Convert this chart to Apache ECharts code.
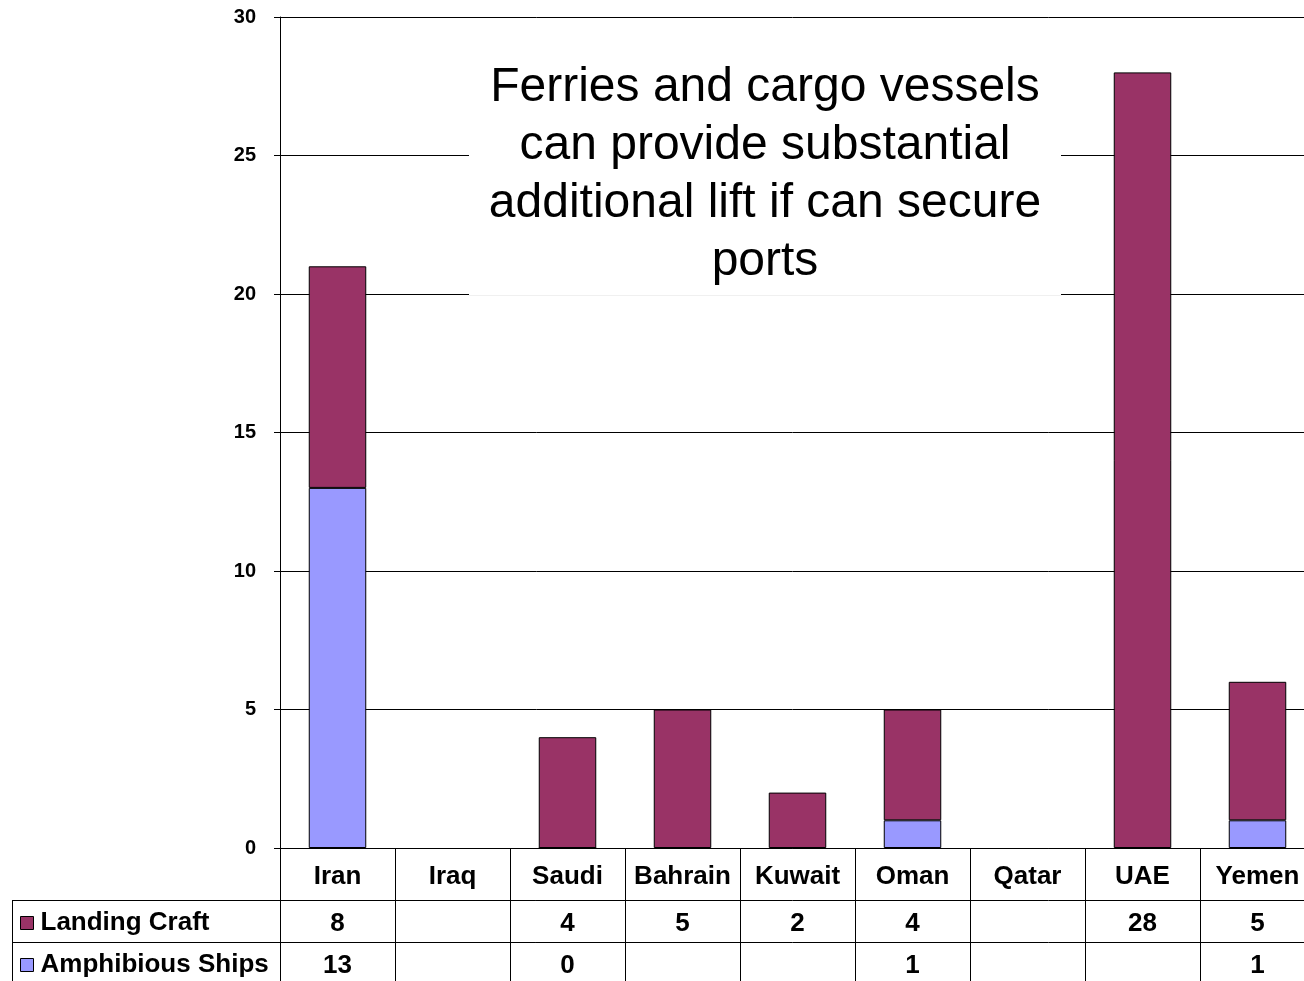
<!DOCTYPE html>
<html>
<head>
<meta charset="utf-8">
<script src="https://cdn.jsdelivr.net/npm/echarts@6/dist/echarts.min.js"></script>
<style>
  html, body { margin: 0; padding: 0; background: #fff; }
  #main { width: 1304px; height: 981px; }
</style>
</head>
<body>
<div id="main"></div>
<script>
// chart data
const countries = ["Iran", "Iraq", "Saudi", "Bahrain", "Kuwait", "Oman", "Qatar", "UAE", "Yemen"];
const landingCraft = [8, null, 4, 5, 2, 4, null, 28, 5];
const amphibiousShips = [13, null, 0, null, null, 1, null, null, 1];
const yTicks = { min: 0, max: 30, interval: 5 };
const note = "Ferries and cargo vessels\ncan provide substantial\nadditional lift if can secure\nports";

const FONT = "'Liberation Sans', Arial, sans-serif";
const TABLE_FONT = 26;
const cell = v => (v === null || v === undefined ? "" : String(v));

let myChart = echarts.init(document.getElementById("main"));

// a table row under the plot, drawn as an extra x axis
function tableAxis(offset, values) {
  return {
    type: "category",
    data: countries,
    position: "bottom",
    offset: offset,
    axisLine: { show: true, lineStyle: { color: "#000", width: 1 } },
    axisTick: { show: false },
    axisLabel: {
      interval: 0,
      margin: 11,
      color: "#000",
      fontFamily: FONT,
      fontWeight: "bold",
      fontSize: TABLE_FONT,
      lineHeight: 26,
      formatter: (v, i) => cell(values[i])
    }
  };
}

// one legend box per table row, so each sits left of its own row
function rowLegend(name, top) {
  return {
    left: 15,
    top: top,
    itemWidth: 13,
    itemHeight: 13,
    itemGap: 0,
    icon: "rect",
    data: [name],
    selectedMode: false,
    textStyle: {
      color: "#000",
      fontWeight: "bold",
      fontSize: TABLE_FONT,
      lineHeight: 26,
      fontFamily: FONT,
      padding: [0, 0, 0, 2]
    },
    itemStyle: { borderColor: "#000", borderWidth: 1 }
  };
}

let option = {
  animation: false,
  textStyle: { fontFamily: FONT },
  grid: { left: 280, top: 17, width: 1035, height: 831, outerBoundsMode: "none", containLabel: false },
  legend: [rowLegend("Landing Craft", 905), rowLegend("Amphibious Ships", 947)],
  xAxis: [
    {
      type: "category",
      data: countries,
      axisLine: { show: true, lineStyle: { color: "#000", width: 1 } },
      axisTick: { show: true, interval: 0, length: 135, lineStyle: { color: "#000", width: 1 } },
      axisLabel: {
        interval: 0,
        margin: 16,
        color: "#000",
        fontFamily: FONT,
        fontWeight: "bold",
        fontSize: TABLE_FONT,
        lineHeight: 26
      }
    },
    tableAxis(52, landingCraft),
    tableAxis(94, amphibiousShips)
  ],
  yAxis: {
    type: "value",
    min: yTicks.min,
    max: yTicks.max,
    interval: yTicks.interval,
    axisLine: { show: true, lineStyle: { color: "#000", width: 1 } },
    axisTick: { show: true, length: 6, lineStyle: { color: "#000" } },
    splitLine: { lineStyle: { color: "#000", width: 1 } },
    axisLabel: {
      margin: 24,
      color: "#000",
      fontFamily: FONT,
      fontWeight: "bold",
      fontSize: 20
    }
  },
  series: [
    {
      name: "Amphibious Ships",
      type: "bar",
      stack: "total",
      barWidth: "50%",
      itemStyle: { color: "#9999FF", borderColor: "#000", borderWidth: 1 },
      data: amphibiousShips
    },
    {
      name: "Landing Craft",
      type: "bar",
      stack: "total",
      barWidth: "50%",
      itemStyle: { color: "#993366", borderColor: "#000", borderWidth: 1 },
      data: landingCraft
    }
  ],
  graphic: [
    // left part of the data table frame
    { type: "line", shape: { x1: 12, y1: 900.5, x2: 280, y2: 900.5 }, style: { stroke: "#000", lineWidth: 1 } },
    { type: "line", shape: { x1: 12, y1: 942.5, x2: 280, y2: 942.5 }, style: { stroke: "#000", lineWidth: 1 } },
    { type: "line", shape: { x1: 12.5, y1: 900, x2: 12.5, y2: 981 }, style: { stroke: "#000", lineWidth: 1 } },
    // text box over the grid
    {
      type: "rect",
      z: 100,
      shape: { x: 469, y: 42, width: 592, height: 253 },
      style: { fill: "#fff" }
    },
    {
      type: "line",
      z: 100,
      shape: { x1: 469, y1: 295.5, x2: 1061, y2: 295.5 },
      style: { stroke: "#f0f0f0", lineWidth: 1 }
    },
    {
      type: "text",
      z: 101,
      x: 765,
      y: 59,
      style: {
        text: note,
        align: "center",
        textAlign: "center",
        font: "48px " + FONT,
        lineHeight: 58,
        fill: "#000"
      }
    }
  ]
};

myChart.setOption(option);
</script>
</body>
</html>
